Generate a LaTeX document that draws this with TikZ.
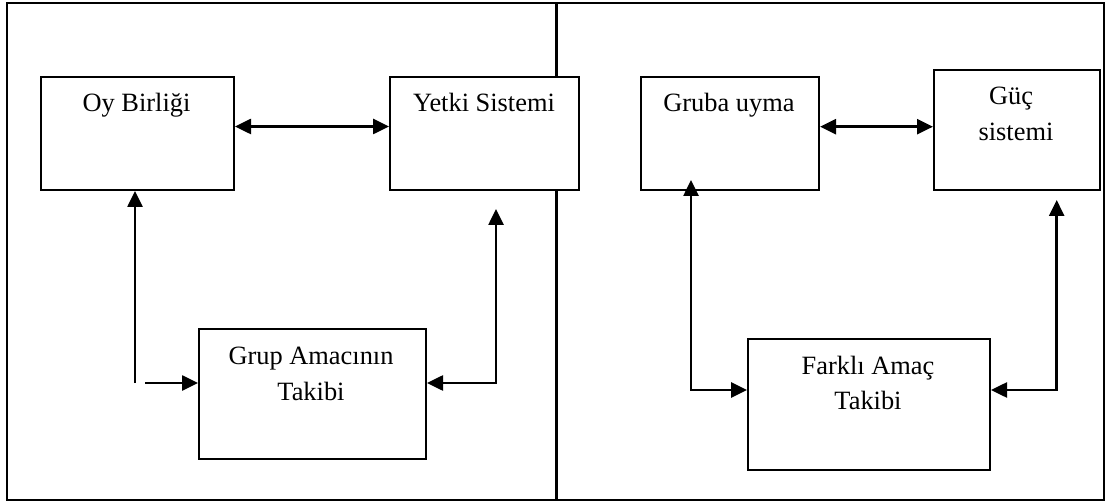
\documentclass[tikz,border=0pt]{standalone}
\usepackage{fontspec}
\setmainfont{Liberation Serif}
\usetikzlibrary{arrows.meta,calc}
\begin{document}
\begin{tikzpicture}[x=1pt,y=-1pt,
  box/.style={draw,line width=2pt,fill=white,anchor=north west,inner sep=0pt},
  txt/.style={anchor=base,inner sep=0pt,font=\fontsize{26.4}{36}\selectfont},
  tip/.tip={Triangle[length=16pt,width=15pt]},
  conn/.style={line width=2.6pt,-tip},
  dbl/.style={line width=2.6pt,tip-tip}]
\useasboundingbox (0,0) rectangle (1105,502);
% outer frame and divider between the two panels
\draw[line width=2.4pt] (7,3) rectangle (1104,500);
\draw[line width=2.4pt] (556.5,3) -- (556.5,500);

% left panel boxes
\node[box,minimum width=193pt,minimum height=113pt] (oy) at (40,76) {};
\node[box,minimum width=189pt,minimum height=113pt] (yetki) at (389,76) {};
\node[box,minimum width=227pt,minimum height=130pt] (grup) at (198,328) {};
\node[txt] (toy) at (136.5,112) {Oy Birliği};
\node[txt] (tyetki) at (484,112) {Yetki Sistemi};
\node[txt] (tgrup1) at (311,364) {Grup Amacının};
\node[txt] (tgrup2) at (311,400) {Takibi};

% right panel boxes
\node[box,minimum width=178pt,minimum height=113pt] (gruba) at (640,76) {};
\node[box,minimum width=166pt,minimum height=120pt] (guc) at (933,69) {};
\node[box,minimum width=242pt,minimum height=131pt] (farkli) at (747,338) {};
\node[txt] (tgruba) at (729,112) {Gruba uyma};
\node[txt] (tguc1) at (1011,105) {Güç};
\node[txt] (tguc2) at (1016,141) {sistemi};
\node[txt] (tfarkli1) at (868,374) {Farklı Amaç};
\node[txt] (tfarkli2) at (868,409.5) {Takibi};

% left panel connectors
\coordinate (h1) at (0,126.5);
\draw[dbl] (oy.east |- h1) -- (yetki.west |- h1);
\coordinate (a1) at (135,383);
\coordinate (a2) at (145,383);
\draw[conn] (a1) -- (a1 |- oy.south);
\draw[conn] (a2) -- (a2 -| grup.west);
\coordinate (b1) at (496,383);
\coordinate (b2) at (496,209);
\draw[dbl] (b1 -| grup.east) -- (b1) -- (b2);

% right panel connectors
\coordinate (h2) at (0,126.7);
\draw[dbl] (gruba.east |- h2) -- (guc.west |- h2);
\coordinate (c1) at (691,390);
\coordinate (c2) at (691,180);
\draw[dbl] (c2) -- (c1) -- (c1 -| farkli.west);
\coordinate (d1) at (1056.7,390);
\coordinate (d2) at (1056.7,200);
\draw[dbl] (d1 -| farkli.east) -- (d1) -- (d2);
\end{tikzpicture}
\end{document}
